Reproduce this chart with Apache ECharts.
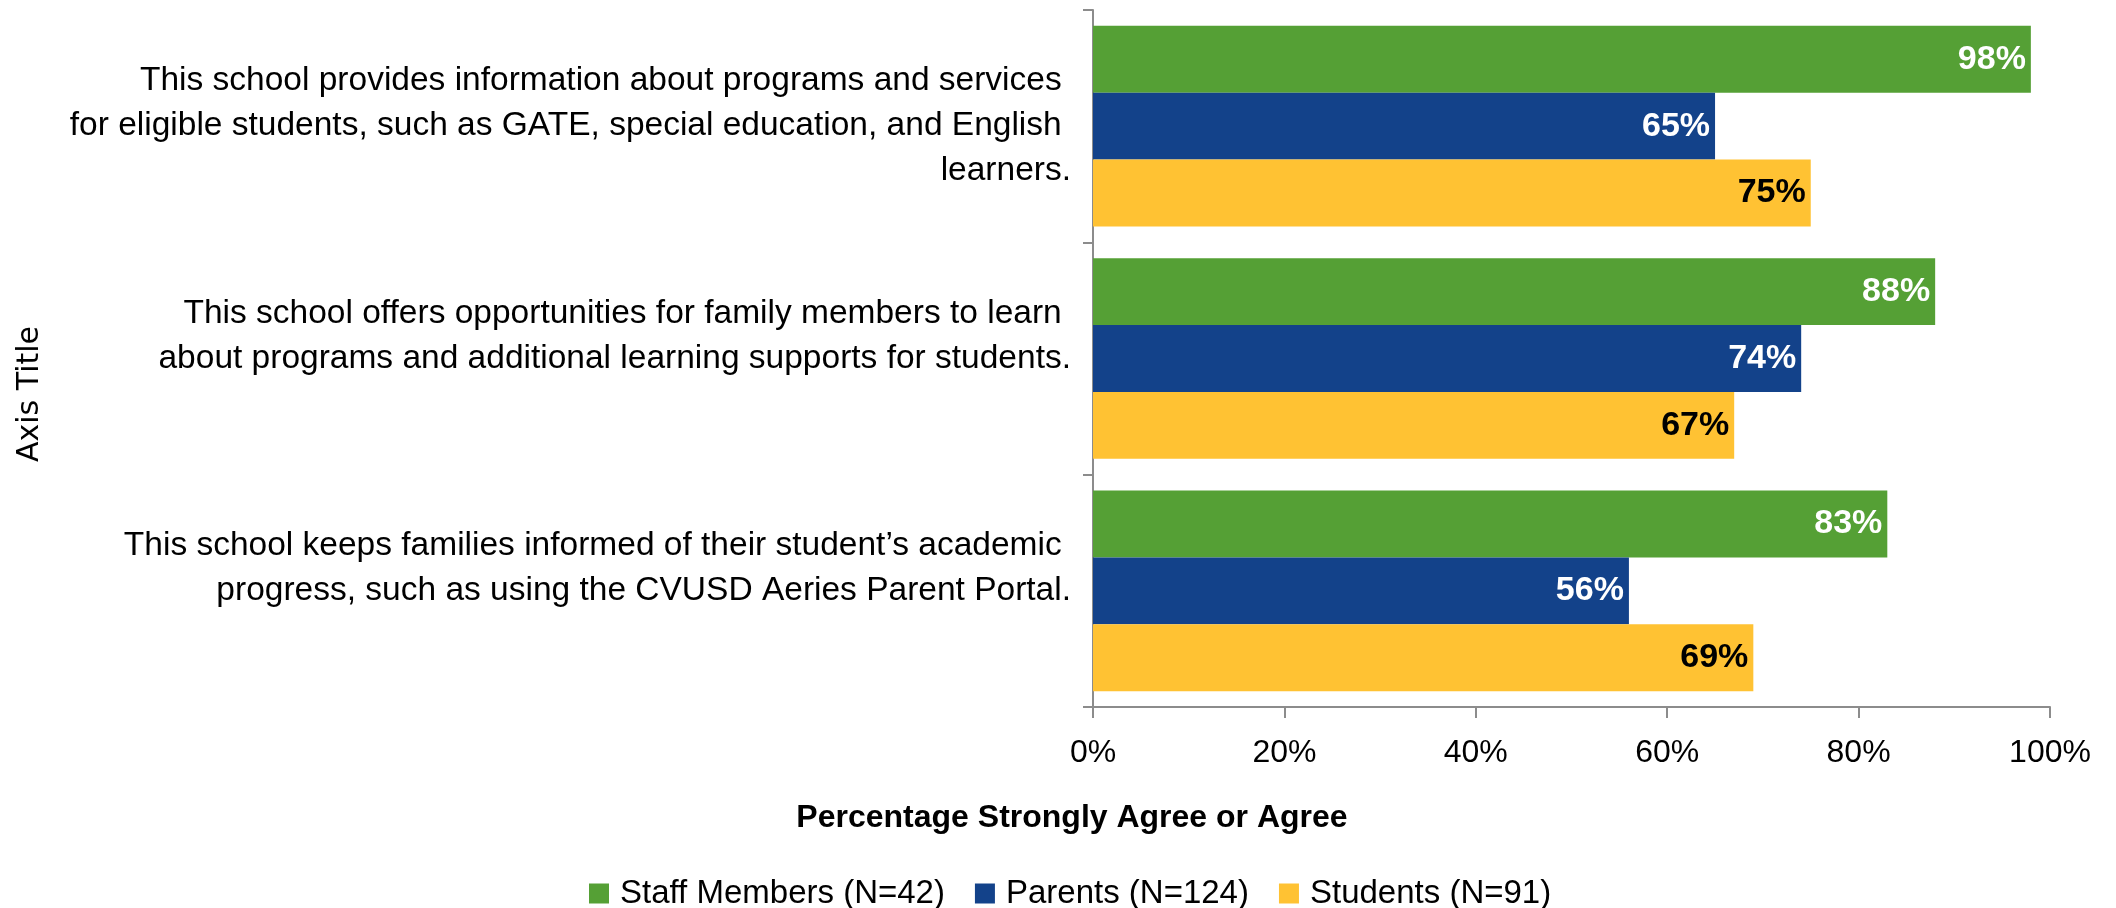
<!DOCTYPE html>
<html>
<head>
<meta charset="utf-8">
<title>Percentage Strongly Agree or Agree</title>
<script src="https://cdn.jsdelivr.net/npm/echarts@6/dist/echarts.min.js"></script>
<style>
  html, body { margin: 0; padding: 0; background: #ffffff; }
  #chart { width: 2116px; height: 908px; }
</style>
</head>
<body>
<div id="chart"></div>
<script>
// Survey statements (top to bottom), wrapped as they appear on the axis
const categories = [
  'This school provides information about programs and services \nfor eligible students, such as GATE, special education, and English \nlearners.',
  'This school offers opportunities for family members to learn \nabout programs and additional learning supports for students.\n',
  'This school keeps families informed of their student\u2019s academic \nprogress, such as using the CVUSD Aeries Parent Portal.\n'
];

// Percent who strongly agree or agree, per respondent group
const staffValues = [98, 88, 83];
const parentValues = [65, 74, 56];
const studentValues = [75, 67, 69];

const seriesNames = ['Staff Members (N=42)', 'Parents (N=124)', 'Students (N=91)'];
const xTicks = [0, 20, 40, 60, 80, 100];

const FONT = "'Liberation Sans', Arial, sans-serif";
const AXIS_GRAY = '#8c8c8c';

const chart = echarts.init(document.getElementById('chart'), null, { renderer: 'canvas' });

function barSeries(name, data, color, labelColor) {
  return {
    name: name,
    type: 'bar',
    data: data,
    barGap: '0%',
    barCategoryGap: '13.6%',
    itemStyle: { color: color },
    label: {
      show: true,
      position: 'insideRight',
      distance: 5,
      formatter: '{c}%',
      color: labelColor,
      fontFamily: FONT,
      fontWeight: 'bold',
      fontSize: 34
    }
  };
}

chart.setOption({
  animation: false,
  backgroundColor: '#ffffff',
  grid: {
    left: 1093, right: 66, top: 10, bottom: 201,
    containLabel: false,
    outerBoundsMode: 'none'
  },
  xAxis: {
    type: 'value',
    min: xTicks[0],
    max: xTicks[xTicks.length - 1],
    interval: xTicks[1] - xTicks[0],
    splitLine: { show: false },
    axisLine: { show: true, lineStyle: { color: AXIS_GRAY, width: 2 } },
    axisTick: { show: true, length: 11, lineStyle: { color: AXIS_GRAY, width: 2 } },
    axisLabel: {
      formatter: '{value}%',
      margin: 30,
      color: '#000000',
      fontFamily: FONT,
      fontSize: 32
    }
  },
  yAxis: {
    type: 'category',
    inverse: true,
    data: categories,
    axisLine: { show: true, lineStyle: { color: AXIS_GRAY, width: 2 } },
    axisTick: { show: true, length: 10, lineStyle: { color: AXIS_GRAY, width: 2 } },
    axisLabel: {
      margin: 22,
      align: 'right',
      color: '#000000',
      fontFamily: FONT,
      fontSize: 33.5,
      lineHeight: 45
    }
  },
  legend: {
    data: seriesNames,
    left: 584,
    top: 872,
    icon: 'rect',
    itemWidth: 20,
    itemHeight: 20,
    itemGap: 30,
    textStyle: { fontFamily: FONT, fontSize: 33, color: '#000000', padding: [0, 0, 0, 6] }
  },
  graphic: [
    {
      type: 'text',
      x: 1072,
      y: 818,
      style: {
        text: 'Percentage Strongly Agree or Agree',
        font: 'bold 32px ' + FONT,
        fill: '#000000',
        textAlign: 'center',
        textVerticalAlign: 'middle'
      }
    },
    {
      type: 'text',
      x: 30,
      y: 394,
      rotation: Math.PI / 2,
      style: {
        text: 'Axis Title',
        font: '30px "DejaVu Sans", sans-serif',
        fill: '#000000',
        textAlign: 'center',
        textVerticalAlign: 'middle'
      }
    }
  ],
  series: [
    barSeries(seriesNames[0], staffValues, '#55A035', '#ffffff'),
    barSeries(seriesNames[1], parentValues, '#13428A', '#ffffff'),
    barSeries(seriesNames[2], studentValues, '#FFC233', '#000000')
  ]
});
</script>
</body>
</html>
